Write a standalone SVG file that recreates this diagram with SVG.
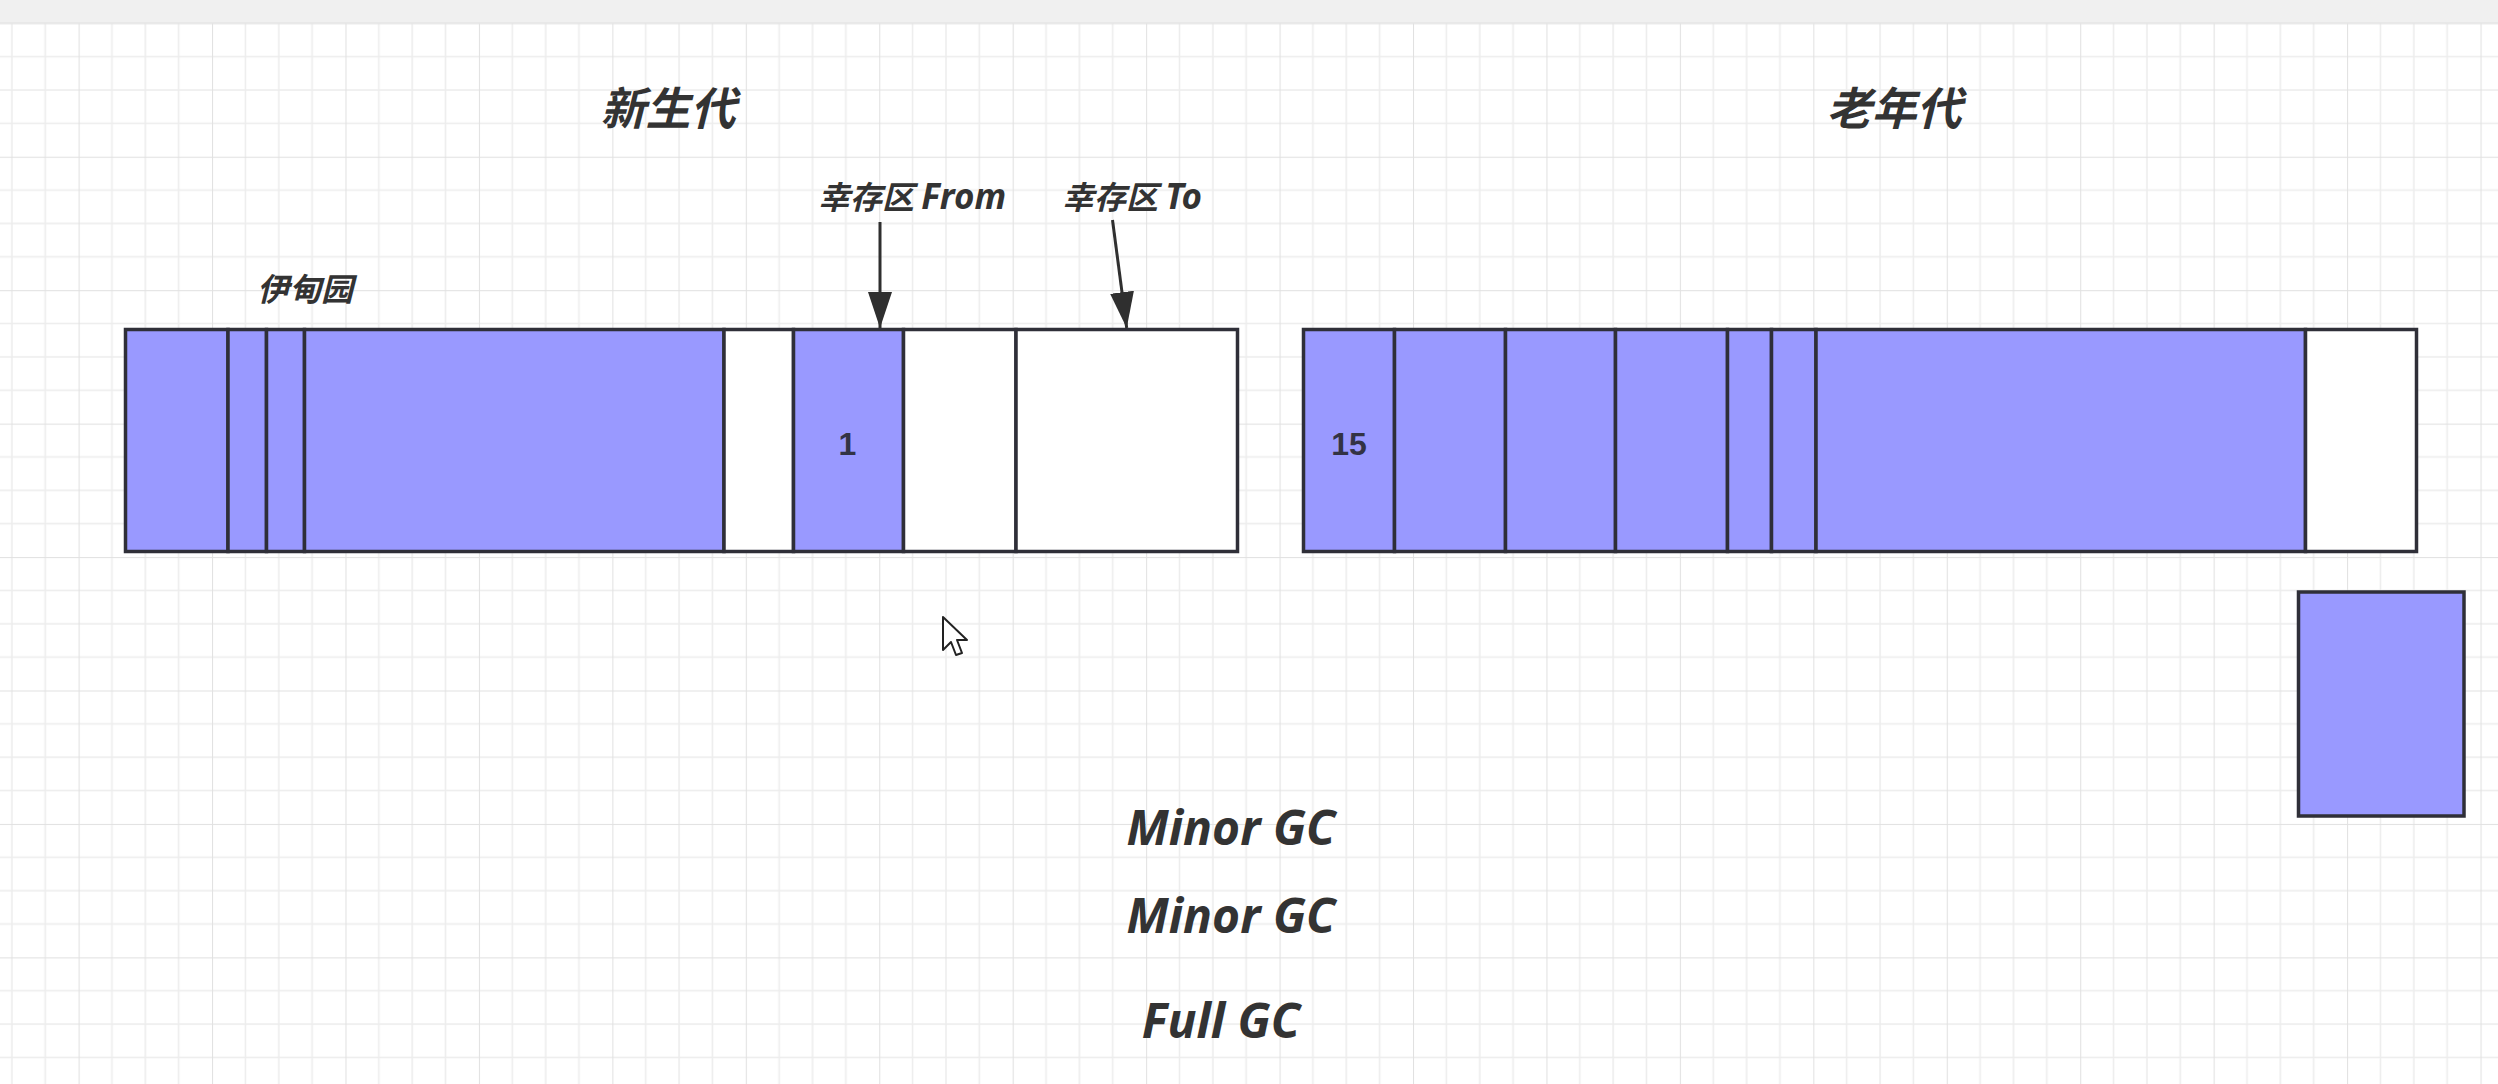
<svg xmlns="http://www.w3.org/2000/svg" width="2498" height="1084" viewBox="0 0 2498 1084">
<style>
.cell{stroke:#2f2f38;stroke-width:3.5}
.p{fill:#9999ff}
.w{fill:#ffffff}
.cjk{font-family:"Noto Sans CJK SC","Noto Sans",sans-serif;font-weight:bold;font-style:italic;fill:#333333}
.lat{font-family:"Noto Sans","Noto Sans CJK SC",sans-serif;font-weight:bold;font-style:italic;fill:#333333}
.num{font-family:"Liberation Sans",Arial,sans-serif;font-weight:bold;font-size:32px;fill:#333344;text-anchor:middle}
.conn{stroke:#2f2f2f;stroke-width:3;fill:none}
</style>
<defs>
<pattern id="grid" patternUnits="userSpaceOnUse" x="78.6" y="23.3" width="133.44" height="133.44">
<rect x="0" y="0" width="133.44" height="133.44" fill="#ffffff"/>
<g fill="#ededed">
<rect x="32.6" y="0" width="1.5" height="133.44"/>
<rect x="66" y="0" width="1.5" height="133.44"/>
<rect x="99.3" y="0" width="1.5" height="133.44"/>
<rect x="0" y="32.6" width="133.44" height="1.5"/>
<rect x="0" y="66" width="133.44" height="1.5"/>
<rect x="0" y="99.3" width="133.44" height="1.5"/>
</g>
<g fill="#e1e1e1">
<rect x="-0.8" y="0" width="1.8" height="133.44"/>
<rect x="0" y="-0.8" width="133.44" height="1.8"/>
</g>
</pattern>
<marker id="arr" markerUnits="userSpaceOnUse" markerWidth="36" markerHeight="24" refX="36" refY="12" orient="auto" viewBox="0 0 36 24">
<path d="M0,0 L36,12 L0,24 z" fill="#2f2f2f"/>
</marker>
</defs>
<rect x="0" y="0" width="2498" height="1084" fill="url(#grid)"/>
<rect x="0" y="0" width="2498" height="23" fill="#f0f0f0"/>
<rect x="0" y="22" width="2498" height="1.5" fill="#e8e8e8"/>

<g id="title-young"><text class="cjk" x="668" y="125" font-size="45" text-anchor="middle">新生代</text></g>
<g id="title-old"><text class="cjk" x="1894" y="125" font-size="45" text-anchor="middle">老年代</text></g>
<g id="label-eden"><text class="cjk" x="305" y="301" font-size="32" text-anchor="middle">伊甸园</text></g>
<g id="label-from"><text class="cjk" x="912" y="209" font-size="32" text-anchor="middle">幸存区 <tspan class="lat" font-size="35">From</tspan></text></g>
<g id="label-to"><text class="cjk" x="1132" y="209" font-size="32" text-anchor="middle">幸存区 <tspan class="lat" font-size="35">To</tspan></text></g>

<g id="young-gen">
<rect class="cell p" x="125.5" y="329.5" width="102.5" height="222"/>
<rect class="cell p" x="228" y="329.5" width="38.5" height="222"/>
<rect class="cell p" x="266.5" y="329.5" width="38" height="222"/>
<rect class="cell p" x="304.5" y="329.5" width="419.5" height="222"/>
<rect class="cell w" x="724" y="329.5" width="69.5" height="222"/>
<rect class="cell p" x="793.5" y="329.5" width="110" height="222"/>
<rect class="cell w" x="903.5" y="329.5" width="112.5" height="222"/>
<rect class="cell w" x="1016" y="329.5" width="221.5" height="222"/>
<text class="num" x="847.5" y="455">1</text>
</g>

<g id="old-gen">
<rect class="cell p" x="1303.5" y="329.5" width="91" height="222"/>
<rect class="cell p" x="1394.5" y="329.5" width="111" height="222"/>
<rect class="cell p" x="1505.5" y="329.5" width="110" height="222"/>
<rect class="cell p" x="1615.5" y="329.5" width="112" height="222"/>
<rect class="cell p" x="1727.5" y="329.5" width="44" height="222"/>
<rect class="cell p" x="1771.5" y="329.5" width="44.5" height="222"/>
<rect class="cell p" x="1816" y="329.5" width="489.5" height="222"/>
<rect class="cell w" x="2305.5" y="329.5" width="111" height="222"/>
<text class="num" x="1349" y="455">15</text>
</g>

<g id="promoted-object">
<rect class="cell p" x="2298.5" y="592" width="165.5" height="224"/>
</g>

<g id="connectors">
<line class="conn" x1="880" y1="222" x2="880" y2="328" marker-end="url(#arr)"/>
<line class="conn" x1="1112.5" y1="220" x2="1126.7" y2="328" marker-end="url(#arr)"/>
</g>

<g id="gc-labels">
<text class="lat" x="1231" y="845" font-size="48" text-anchor="middle">Minor GC</text>
<text class="lat" x="1231" y="933" font-size="48" text-anchor="middle">Minor GC</text>
<text class="lat" x="1221" y="1038" font-size="48" text-anchor="middle">Full GC</text>
</g>

<g id="cursor">
<path d="M943,617 L943,650 L951,642 L956,655 L962,653 L957,640 L967,640 Z" fill="#ffffff" stroke="#222222" stroke-width="2" stroke-linejoin="round"/>
</g>
</svg>
